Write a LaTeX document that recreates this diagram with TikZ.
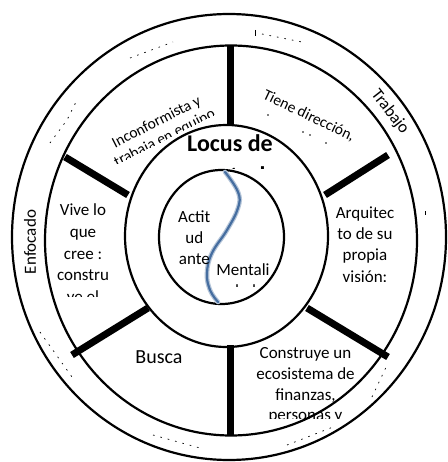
\documentclass[tikz,border=0pt]{standalone}
\usepackage{fontspec}
\setmainfont{Carlito}
\usetikzlibrary{shapes.geometric}
\definecolor{curveblue}{RGB}{70,110,160}
\begin{document}
\begin{tikzpicture}[x=1pt,y=-1pt,
  ring/.style={ellipse, draw=black, line width=2.2pt, inner sep=0pt},
  spoke/.style={line width=7pt, line cap=butt},
  lbl/.style={inner sep=0pt, align=center, font=\fontsize{17}{21.5}\selectfont},
  small/.style={lbl, font=\fontsize{15.5}{18}\selectfont},
  frag/.style={line width=0.7pt, dash pattern=on 1.6pt off 6pt},
  speck/.style={fill=black},
]
\useasboundingbox (0,0) rectangle (447,462);

% outer rings
\node[ring, minimum width=434pt, minimum height=446pt] (outer) at (229,237) {};
\node[ring, minimum width=372pt, minimum height=390pt] (mid) at (231,240.5) {};

% outer ring labels
\node[lbl, rotate=90] (enfocado) at (30,242) {Enfocado};
\node[lbl, rotate=-52] (trabajo) at (390,112) {Trabajo};
\draw[frag] (130,58) -- (173,42);
\draw[frag] (262,34) -- (302,42);
\draw[line width=0.8pt] (255,30) -- (255,36);
\draw[frag] (50,143) -- (67,120) -- (77,100);
\draw[line width=0.7pt] (425,211) -- (425,215);
\draw[frag] (40,332) -- (72,377);
\draw[frag] (153,435) -- (200,448);
\draw[frag] (287,445) -- (333,427);
\draw[frag] (372,397) -- (388,363);

% segment texts
\begin{scope}[shift={(158.5,126)}, rotate=27, transform shape]
  \clip (-70,-16) rectangle (70,15);
  \node[small, anchor=base] (incon) at (0,0) {Inconformista y};
  \node[small, anchor=base] (equipo) at (0,18) {trabaja en equipo};
\end{scope}
\begin{scope}[shift={(307,120)}, rotate=-25.5, transform shape]
  \node[small, anchor=base] (tiene) at (0,0) {Tiene dirección,};
\end{scope}
\fill[speck] (268,115) circle (0.8pt);
\fill[speck] (303,132) circle (0.8pt);
\fill[speck] (310,135) circle (0.8pt);
\fill[speck] (326,143) circle (0.8pt);

\begin{scope}
  \clip (40,190) rectangle (128,296.7);
  \node[lbl, anchor=north, font=\fontsize{17}{21.7}\selectfont] (vive) at (83,200.5)
    {\strut Vive lo\\que\\cree :\\constru\\ye el};
\end{scope}
\begin{scope}
  \clip (328,195) rectangle (405,281.5);
  \node[lbl, anchor=north, font=\fontsize{17}{21.2}\selectfont] (arq) at (365,203.5)
    {\strut Arquitec\\to de su\\propia\\visión:};
\end{scope}
\node[lbl, font=\fontsize{20}{24}\selectfont, anchor=base] (busca) at (159,363) {Busca};
\begin{scope}
  \clip (250,340) rectangle (365,418);
  \node[lbl, anchor=north, font=\fontsize{17}{20.8}\selectfont] (constr) at (305.5,343.7)
    {\strut Construye un\\ecosistema de\\finanzas,\\personas y};
\end{scope}

% spokes
\coordinate (t1) at (230,46);  \coordinate (t2) at (230,125);
\coordinate (b1) at (230,435); \coordinate (b2) at (230,345);
\coordinate (ul1) at (65,157); \coordinate (ul2) at (128,195);
\coordinate (ur1) at (388,155); \coordinate (ur2) at (325,195);
\coordinate (ll1) at (72,355); \coordinate (ll2) at (148,308);
\coordinate (lr1) at (388,357); \coordinate (lr2) at (307,308);
\draw[spoke] (t1) -- (t2);
\draw[spoke] (b1) -- (b2);
\draw[spoke] (ul1) -- (ul2);
\draw[spoke] (ur1) -- (ur2);
\draw[spoke] (ll1) -- (ll2);
\draw[spoke] (lr1) -- (lr2);

% locus ring
\node[ring, minimum width=203pt, minimum height=222pt] (locus) at (226.5,236) {};
\begin{scope}
  \clip (140,128) rectangle (320,169);
  \node[lbl, anchor=base, font=\fontsize{24}{29}\selectfont\bfseries] (locustxt) at (230,152) {Locus de};
  \node[lbl, anchor=base, font=\fontsize{24}{29}\selectfont\bfseries] (control) at (230,183) {control};
\end{scope}

% core
\node[ring, fill=white, minimum width=125pt, minimum height=134pt] (core) at (221.5,237) {};
\draw[line width=4.6pt, color=curveblue!40, line cap=round]
  plot[smooth, tension=0.7] coordinates {(225,172) (238,192) (238,208) (227,230) (212,253) (207,273) (210,290) (218,302)};
\draw[line width=2.2pt, color=curveblue, line cap=round]
  plot[smooth, tension=0.7] coordinates {(225,172) (238,192) (238,208) (227,230) (212,253) (207,273) (210,290) (218,302)};

\node[lbl, anchor=north, font=\fontsize{17}{20.7}\selectfont] (actit) at (194.3,208.2) {\strut Actit\\ud\\ante};
\begin{scope}
  \clip (205,250) rectangle (285,286);
  \node[lbl, anchor=base] (mentali) at (243,275) {Mentali};
  \node[lbl, anchor=base] (dad) at (243,296) {dad};
\end{scope}
\end{tikzpicture}
\end{document}
